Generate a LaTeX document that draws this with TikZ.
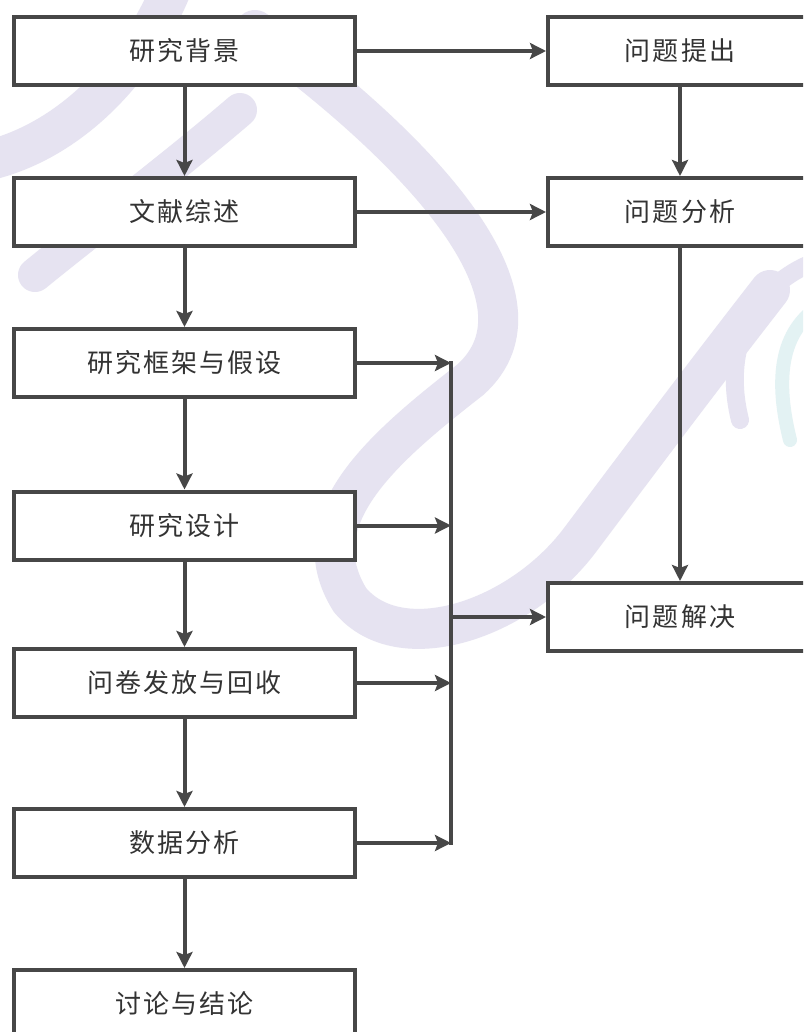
\documentclass[tikz,border=0pt]{standalone}
\usepackage{fontspec}
\usetikzlibrary{arrows.meta,calc}
\newfontfamily\cjk[LetterSpace=8]{Noto Sans CJK SC}
\definecolor{lineC}{HTML}{474747}
\definecolor{textC}{HTML}{333333}
\definecolor{wmark}{HTML}{E6E3F1}
\definecolor{wcyan}{HTML}{E3F2F3}
\begin{document}
\begin{tikzpicture}[x=1pt,y=-1pt,
  box/.style={draw=lineC, line width=4pt, fill=white, minimum height=68pt,
    inner sep=0pt, font=\cjk\fontsize{26}{26}\selectfont, text=textC},
  lbox/.style={box, minimum width=341pt},
  rbox/.style={box, minimum width=264pt},
  arr/.style={draw=lineC, line width=4pt, -{Stealth[length=16pt,width=16pt,inset=3pt]}},
  bus/.style={draw=lineC, line width=4pt},
  wm/.style={draw=wmark, line width=40pt, line cap=round}
]
\useasboundingbox (0,0) rectangle (803,1032);
\clip (0,0) rectangle (803,1032);
\fill[white] (0,0) rectangle (803,1032);
% watermark (faint)
\draw[wm] (-10,160) .. controls (70,140) and (140,70) .. (175,-20);
\draw[wm, line width=34pt] (240,110) .. controls (170,170) and (90,230) .. (35,275);
\draw[wm] (255,30) .. controls (420,150) and (560,300) .. (470,380)
  .. controls (380,450) and (300,520) .. (350,600)
  .. controls (400,660) and (520,620) .. (580,540)
  .. controls (640,460) and (700,380) .. (770,290);
\draw[wm, line width=18pt] (820,260) .. controls (760,280) and (720,340) .. (740,420);
\draw[draw=wcyan, line width=14pt, line cap=round] (830,300) .. controls (790,320) and (770,360) .. (790,440);
% left column
\node[lbox] (b1) at (184.5,51) {研究背景};
\node[lbox] (b2) at (184.5,212) {文献综述};
\node[lbox] (b3) at (184.5,363) {研究框架与假设};
\node[lbox] (b4) at (184.5,525.5) {研究设计};
\node[lbox] (b5) at (184.5,683) {问卷发放与回收};
\node[lbox] (b6) at (184.5,843) {数据分析};
\node[lbox] (b7) at (184.5,1004) {讨论与结论};
% right column
\node[rbox] (p1) at (680,51) {问题提出};
\node[rbox] (p2) at (680,212) {问题分析};
\node[rbox] (p3) at (680,617) {问题解决};
% bus
\coordinate (bt) at (451,363);
\coordinate (bb) at (451,843);
\draw[bus] ($(bt)+(0,-2)$) -- ($(bb)+(0,2)$);
% vertical flow
\draw[arr] (b1) -- (b2);
\draw[arr] (b2) -- (b3);
\draw[arr] (b3) -- (b4);
\draw[arr] (b4) -- (b5);
\draw[arr] (b5) -- (b6);
\draw[arr] (b6) -- (b7);
\draw[arr] (p1) -- (p2);
\draw[arr] (p2) -- (p3);
% horizontal
\draw[arr] (b1) -- (p1);
\draw[arr] (b2) -- (p2);
\draw[arr] (b3.east) -- (b3.east -| bt);
\draw[arr] (b4.east) -- (b4.east -| bt);
\draw[arr] (b5.east) -- (b5.east -| bt);
\draw[arr] (b6.east) -- (b6.east -| bt);
\draw[arr] (p3.west -| bt) -- (p3.west);
\end{tikzpicture}
\end{document}
